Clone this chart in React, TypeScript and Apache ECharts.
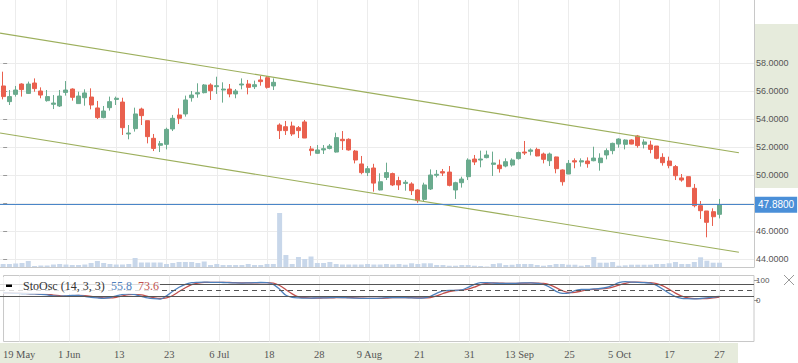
import React, { useEffect, useRef } from "react";
import * as echarts from "echarts";

// ---- Data (trading days, 2017) ----
const dates: string[] = [
  "2017-05-17", "2017-05-18", "2017-05-19", "2017-05-22", "2017-05-23", "2017-05-24", "2017-05-25", "2017-05-26", "2017-05-30", "2017-05-31",
  "2017-06-01", "2017-06-02", "2017-06-05", "2017-06-06", "2017-06-07", "2017-06-08", "2017-06-09", "2017-06-12", "2017-06-13", "2017-06-14",
  "2017-06-15", "2017-06-16", "2017-06-19", "2017-06-20", "2017-06-21", "2017-06-22", "2017-06-23", "2017-06-26", "2017-06-27", "2017-06-28",
  "2017-06-29", "2017-06-30", "2017-07-03", "2017-07-05", "2017-07-06", "2017-07-07", "2017-07-10", "2017-07-11", "2017-07-12", "2017-07-13",
  "2017-07-14", "2017-07-17", "2017-07-18", "2017-07-19", "2017-07-20", "2017-07-21", "2017-07-24", "2017-07-25", "2017-07-26", "2017-07-27",
  "2017-07-28", "2017-07-31", "2017-08-01", "2017-08-02", "2017-08-03", "2017-08-04", "2017-08-07", "2017-08-08", "2017-08-09", "2017-08-10",
  "2017-08-11", "2017-08-14", "2017-08-15", "2017-08-16", "2017-08-17", "2017-08-18", "2017-08-21", "2017-08-22", "2017-08-23", "2017-08-24",
  "2017-08-25", "2017-08-28", "2017-08-29", "2017-08-30", "2017-08-31", "2017-09-01", "2017-09-05", "2017-09-06", "2017-09-07", "2017-09-08",
  "2017-09-11", "2017-09-12", "2017-09-13", "2017-09-14", "2017-09-15", "2017-09-18", "2017-09-19", "2017-09-20", "2017-09-21", "2017-09-22",
  "2017-09-25", "2017-09-26", "2017-09-27", "2017-09-28", "2017-09-29", "2017-10-02", "2017-10-03", "2017-10-04", "2017-10-05", "2017-10-06",
  "2017-10-09", "2017-10-10", "2017-10-11", "2017-10-12", "2017-10-13", "2017-10-16", "2017-10-17", "2017-10-18", "2017-10-19", "2017-10-20",
  "2017-10-23", "2017-10-24", "2017-10-25", "2017-10-26", "2017-10-27",
  "2017-10-30", "2017-10-31", "2017-11-01", "2017-11-02", "2017-11-03",
];

const tickLabels: string[] = ["19 May", "1 Jun", "13", "23", "6 Jul", "18", "28", "9 Aug", "21", "31", "13 Sep", "25", "5 Oct", "17", "27"];

const opens: number[] = [
  56.36, 55.24, 55.76, 56.5, 55.83, 56.57, 56.0, 55.31, 55.05, 54.93,
  55.9, 56.14, 55.1, 55.52, 55.57, 54.79, 54.1, 54.81, 55.4, 55.21,
  52.93, 53.31, 54.71, 53.88, 52.62, 52.12, 52.19, 53.29, 54.29, 54.36,
  55.52, 55.79, 55.88, 56.43, 56.31, 56.07, 56.14, 55.79, 56.43, 56.5,
  56.31, 56.79, 56.95, 56.36, 53.57, 53.45, 53.5, 53.38, 53.79, 51.86,
  51.55, 51.79, 51.9, 51.64, 52.55, 52.55, 51.71, 50.79, 50.17, 50.5,
  48.93, 49.83, 50.1, 49.6, 49.4, 49.36, 48.93, 48.26, 49.0, 49.98,
  50.24, 50.21, 48.93, 49.45, 49.88, 51.14, 51.07, 51.24, 50.76, 50.71,
  50.64, 50.71, 51.17, 51.64, 51.69, 51.83, 51.5, 51.02, 51.29, 50.36,
  50.07, 51.02, 50.93, 51.0, 51.02, 50.88, 51.43, 51.74, 52.21, 52.19,
  52.5, 52.79, 52.19, 52.14, 52.07, 51.26, 51.0, 50.6, 49.79, 49.88,
  49.05, 47.81, 47.43, 47.38, 47.19,
];
const highs: number[] = [
  57.38, 56.07, 56.36, 56.55, 56.67, 56.9, 56.26, 56.07, 55.71, 56.07,
  56.71, 56.19, 55.95, 56.12, 56.19, 55.29, 54.93, 55.6, 55.6, 55.52,
  53.57, 54.81, 54.81, 53.88, 52.93, 52.43, 53.38, 54.29, 54.76, 55.67,
  56.0, 56.55, 56.5, 56.55, 57.02, 56.62, 56.5, 56.14, 56.9, 56.79,
  56.74, 57.07, 57.07, 56.9, 53.69, 53.86, 53.81, 53.5, 53.93, 52.07,
  52.14, 52.14, 52.21, 53.02, 53.14, 52.62, 51.79, 51.36, 50.64, 50.8,
  50.12, 50.88, 50.17, 49.88, 49.64, 49.48, 48.98, 49.45, 50.4, 50.36,
  50.43, 50.64, 49.52, 49.88, 51.19, 51.43, 51.74, 51.74, 51.67, 51.1,
  51.19, 51.19, 51.67, 52.43, 51.9, 51.95, 51.6, 51.6, 51.31, 50.4,
  51.07, 51.19, 51.19, 51.26, 52.02, 51.55, 51.9, 52.31, 52.62, 52.55,
  52.55, 52.86, 52.55, 52.45, 52.07, 51.55, 51.31, 50.71, 50.07, 49.88,
  49.36, 48.14, 47.43, 47.62, 48.29,
];
const lows: number[] = [
  55.4, 55.0, 55.6, 55.6, 55.79, 55.95, 55.48, 55.24, 54.71, 54.86,
  55.67, 55.31, 55.1, 54.95, 54.69, 54.0, 54.05, 54.6, 55.0, 52.86,
  52.55, 53.1, 53.57, 52.26, 51.71, 51.64, 51.83, 53.14, 53.64, 54.17,
  55.24, 55.52, 55.83, 55.36, 55.79, 55.17, 55.55, 55.48, 56.12, 55.76,
  56.14, 56.38, 56.17, 56.07, 52.57, 52.86, 52.79, 52.64, 52.64, 51.38,
  51.5, 51.5, 51.83, 51.6, 51.79, 51.74, 50.83, 50.05, 49.93, 48.81,
  48.9, 49.64, 49.21, 48.93, 48.88, 48.57, 48.02, 48.1, 48.93, 49.83,
  49.93, 49.19, 48.29, 49.1, 49.64, 50.71, 50.55, 51.19, 49.93, 50.17,
  50.55, 50.6, 51.1, 51.43, 51.4, 51.33, 50.83, 50.64, 50.12, 49.24,
  50.07, 50.48, 50.6, 50.52, 50.98, 50.31, 51.12, 51.48, 51.95, 51.83,
  52.19, 51.95, 51.9, 51.55, 51.12, 50.67, 50.48, 49.64, 49.52, 49.17,
  47.69, 46.86, 45.55, 46.36, 46.9,
];
const closes: number[] = [
  55.6, 55.6, 56.07, 56.1, 56.5, 56.17, 55.71, 55.6, 55.14, 55.64,
  56.07, 55.55, 55.64, 55.86, 55.0, 54.1, 54.57, 55.24, 55.48, 53.38,
  53.0, 54.36, 54.24, 52.74, 51.9, 52.24, 53.26, 54.05, 54.05, 55.36,
  55.71, 55.88, 56.43, 56.02, 56.38, 56.14, 55.79, 56.0, 56.5, 56.26,
  56.45, 56.67, 56.26, 56.62, 53.17, 53.17, 52.93, 53.17, 52.64, 51.74,
  51.79, 51.88, 52.07, 52.67, 52.45, 51.79, 51.07, 50.17, 50.45, 49.42,
  49.52, 50.17, 49.29, 49.29, 49.48, 48.88, 48.17, 49.29, 50.0, 50.05,
  50.14, 49.26, 49.45, 49.71, 51.07, 50.93, 51.14, 51.43, 50.86, 50.45,
  50.95, 51.07, 51.6, 51.57, 51.79, 51.36, 51.12, 51.5, 50.45, 49.52,
  50.83, 50.93, 51.02, 50.81, 51.21, 51.21, 51.74, 52.26, 52.57, 52.5,
  52.21, 52.1, 52.36, 51.83, 51.19, 50.88, 50.67, 49.95, 49.64, 49.17,
  47.81, 47.45, 46.62, 47.02, 47.88,
];
const volumes: number[] = [
  300, 300, 350, 400, 600, 100, 150, 150, 250, 300,
  250, 200, 200, 250, 400, 600, 400, 300, 250, 250,
  300, 900, 450, 450, 450, 450, 300, 400, 500, 500,
  500, 400, 550, 200, 300, 200, 200, 200, 200, 300,
  200, 200, 300, 300, 5400, 1200, 300, 1000, 800, 1050,
  400, 400, 500, 300, 250, 250, 250, 250, 300, 250,
  250, 300, 250, 300, 230, 370, 300, 370, 370, 200,
  200, 130, 130, 200, 200, 130, 100, 50, 300, 370,
  200, 230, 300, 300, 300, 200, 130, 200, 300, 300,
  230, 230, 130, 200, 1000, 430, 430, 500, 130, 170,
  230, 230, 230, 230, 300, 300, 370, 500, 300, 300,
  500, 970, 630, 430, 430,
];
const stochK: number[] = [
  38, 36, 35, 34, 33, 32, 30, 27, 22, 20,
  22, 25, 24, 20, 15, 12, 10, 14, 22, 30,
  32, 28, 20, 12, 8, 6, 22, 45, 65, 80,
  88, 90, 91, 90, 90, 89, 88, 87, 86, 87,
  88, 89, 88, 80, 55, 25, 15, 12, 11, 11,
  12, 12, 13, 15, 14, 12, 11, 10, 10, 10,
  11, 13, 14, 14, 13, 12, 11, 12, 20, 35,
  47, 50, 50, 52, 65, 80, 88, 88, 86, 85,
  84, 84, 86, 87, 87, 85, 80, 65, 45, 35,
  36, 48, 54, 55, 57, 59, 64, 75, 88, 93,
  91, 90, 88, 86, 75, 55, 35, 18, 10, 8,
  7, 9, 12, 16, 20,
];
const stochD: number[] = [
  36, 37, 36, 35, 34, 33, 31, 30, 26, 23,
  21, 22, 24, 23, 20, 16, 12, 12, 15, 22,
  28, 30, 27, 20, 13, 9, 12, 24, 44, 63,
  78, 86, 90, 90, 90, 90, 89, 88, 87, 87,
  87, 88, 88, 86, 74, 53, 32, 17, 13, 11,
  11, 12, 12, 13, 14, 14, 12, 11, 10, 10,
  10, 11, 13, 14, 14, 13, 12, 12, 14, 22,
  34, 44, 49, 51, 56, 66, 78, 85, 87, 86,
  85, 84, 85, 86, 87, 86, 84, 77, 63, 48,
  39, 40, 46, 52, 55, 57, 60, 66, 76, 85,
  91, 91, 90, 88, 83, 72, 55, 36, 21, 12,
  8, 8, 9, 12, 16,
];
// trend channel: [start, end] in day-index units and prices
const channelX: number[] = [-0.5, 117.1];
const channelUpper: number[] = [60.14, 51.59];
const channelLower: number[] = [53.0, 44.48];
const priceTicks = { min: 44, max: 58, step: 2 };
const stochLevels: number[] = [80, 50, 20];
const stochLegend = { name: "StoOsc (14, 3, 3)", k: "55.8", d: "73.6" };

const UP = "#6aab8e";
const DOWN = "#e9604e";
const GRID_LINE = "#ececec";
const AXIS_LINE = "#c8c8c8";
const BAND = "#e6ebdc";

export default function App() {
  const ref = useRef<HTMLDivElement>(null);

  useEffect(() => {
    if (!ref.current) return;
    const chart = echarts.init(ref.current, undefined, { renderer: "svg" });
    const n = dates.length;
    const candles = opens.map((o, i) => [o, closes[i], lows[i], highs[i]]);
    const lastClose = closes[closes.length - 1];
    const isTick = (i: number) => i >= 2 && (i - 2) % 8 === 0;

    const option: any = {
      animation: false,
      grid: [
        { left: 0, right: 44, top: 0, height: 267 }, // volume/frame
        { left: 0, right: 44, top: 63, height: 196 }, // price
        { left: 0, right: 44, top: 275.5, height: 66, show: true, borderColor: AXIS_LINE, borderWidth: 1 }, // osc frame
        { left: 0, right: 44, top: 280.3, height: 20 }, // osc data
      ],
      xAxis: [
        {
          type: "category", gridIndex: 0, data: dates,
          axisLine: { show: true, lineStyle: { color: AXIS_LINE } },
          axisTick: { show: false }, axisLabel: { show: false },
          splitLine: { show: true, interval: (i: number) => isTick(i), alignWithLabel: true, lineStyle: { color: GRID_LINE } },
        },
        { type: "category", gridIndex: 1, data: dates, show: false },
        { type: "value", gridIndex: 1, min: -0.5, max: n - 0.5, show: false },
        {
          type: "category", gridIndex: 2, data: dates,
          axisLine: { show: false }, axisTick: { show: false },
          axisLabel: {
            show: true, interval: (i: number) => isTick(i),
            formatter: (_v: string, i: number) => (isTick(i) ? tickLabels[(i - 2) / 8] ?? "" : ""),
            color: "#555", fontSize: 10.5, fontFamily: "Liberation Serif", margin: 7,
          },
          splitLine: { show: true, interval: (i: number) => isTick(i), alignWithLabel: true, lineStyle: { color: GRID_LINE } },
        },
        { type: "category", gridIndex: 3, data: dates, show: false },
      ],
      yAxis: [
        {
          type: "value", gridIndex: 0, position: "right", min: 0, max: 26700,
          axisLine: { show: true, lineStyle: { color: AXIS_LINE } },
          axisTick: { show: false }, axisLabel: { show: false }, splitLine: { show: false },
        },
        {
          type: "value", gridIndex: 1, position: "right",
          min: priceTicks.min, max: priceTicks.max, interval: priceTicks.step,
          axisLine: { show: false },
          axisTick: { show: true, length: 4, lineStyle: { color: "#999" } },
          axisLabel: {
            color: "#555", fontSize: 9, fontFamily: "Liberation Sans", margin: 2,
            formatter: (v: number) => (Math.abs(v - lastClose) < 1 ? "" : v.toFixed(4)),
          },
          splitLine: { show: true, lineStyle: { color: GRID_LINE } },
        },
        {
          type: "value", gridIndex: 2, position: "right", min: 0, max: 1,
          axisLine: { show: false }, axisTick: { show: false }, axisLabel: { show: false }, splitLine: { show: false },
        },
        {
          type: "value", gridIndex: 3, position: "right", min: 0, max: 100, interval: 100,
          axisLine: { show: false },
          axisTick: { show: true, length: 4, lineStyle: { color: "#999" } },
          axisLabel: { color: "#555", fontSize: 8, fontFamily: "Liberation Sans", margin: 2 },
          splitLine: { show: false },
        },
      ],
      series: [
        {
          type: "bar", xAxisIndex: 0, yAxisIndex: 0, data: volumes, barWidth: 5,
          itemStyle: { color: "#c8d7ea" }, silent: true,
        },
        {
          type: "line", xAxisIndex: 2, yAxisIndex: 1, clip: false, symbol: "none",
          data: channelX.map((x, i) => [x, channelUpper[i]]),
          lineStyle: { color: "#9caf5c", width: 1.2 }, silent: true,
        },
        {
          type: "line", xAxisIndex: 2, yAxisIndex: 1, clip: false, symbol: "none",
          data: channelX.map((x, i) => [x, channelLower[i]]),
          lineStyle: { color: "#9caf5c", width: 1.2 }, silent: true,
        },
        {
          type: "candlestick", xAxisIndex: 1, yAxisIndex: 1, data: candles, barWidth: 4.5, clip: false,
          itemStyle: { color: UP, color0: DOWN, borderColor: UP, borderColor0: DOWN, borderWidth: 1 },
          markLine: {
            silent: true, symbol: ["none", "none"], animation: false,
            data: [{ yAxis: lastClose }],
            lineStyle: { color: "#4a86c8", width: 1.2, type: "solid" },
            label: {
              show: true, position: "end", distance: 1,
              formatter: () => lastClose.toFixed(4),
              color: "#fff", backgroundColor: "#4a8fd8", padding: [3, 3, 3, 3],
              fontSize: 10, fontFamily: "Liberation Sans",
            },
          },
        },
        {
          type: "line", xAxisIndex: 4, yAxisIndex: 3, data: stochD, symbol: "none", smooth: 0.3, clip: false,
          lineStyle: { color: "#c0504d", width: 1.3 }, silent: true,
        },
        {
          type: "line", xAxisIndex: 4, yAxisIndex: 3, data: stochK, symbol: "none", smooth: 0.3, clip: false,
          lineStyle: { color: "#4f81bd", width: 1.3 }, silent: true,
          markLine: {
            silent: true, symbol: ["none", "none"], animation: false,
            label: { show: false },
            lineStyle: { color: "#555", width: 1 },
            data: stochLevels.map((v) => ({ yAxis: v, lineStyle: { color: "#555", width: 1, type: v === 50 ? [5, 4] : "solid" } })),
          },
        },
      ],
      graphic: [
        { type: "rect", z: -10, shape: { x: 755, y: 24, width: 43, height: 164 }, style: { fill: BAND } },
        { type: "rect", z: -10, shape: { x: 0, y: 343, width: 738, height: 20 }, style: { fill: BAND } },
        { type: "rect", z: 50, shape: { x: 0, y: 277, width: 160, height: 17 }, style: { fill: "rgba(255,255,255,0.8)" } },
        { type: "rect", z: 51, shape: { x: 6, y: 284.5, width: 6, height: 2.5 }, style: { fill: "#000" } },
        { type: "text", z: 51, x: 23, y: 286, style: { text: stochLegend.name, fill: "#333", fontSize: 12, fontFamily: "Liberation Serif", verticalAlign: "middle" } },
        { type: "text", z: 51, x: 111, y: 286, style: { text: stochLegend.k, fill: "#4f81bd", fontSize: 12, fontFamily: "Liberation Serif", verticalAlign: "middle" } },
        { type: "text", z: 51, x: 138, y: 286, style: { text: stochLegend.d, fill: "#c0504d", fontSize: 12, fontFamily: "Liberation Serif", verticalAlign: "middle" } },
        { type: "line", z: 51, shape: { x1: 784, y1: 275, x2: 794, y2: 285 }, style: { stroke: "#999", lineWidth: 1 } },
        { type: "line", z: 51, shape: { x1: 784, y1: 285, x2: 794, y2: 275 }, style: { stroke: "#999", lineWidth: 1 } },
      ],
    };
    chart.setOption(option);
    return () => chart.dispose();
  }, []);

  return <div ref={ref} style={{ position: "absolute", left: 0, top: 0, width: 798, height: 363 }} />;
}
